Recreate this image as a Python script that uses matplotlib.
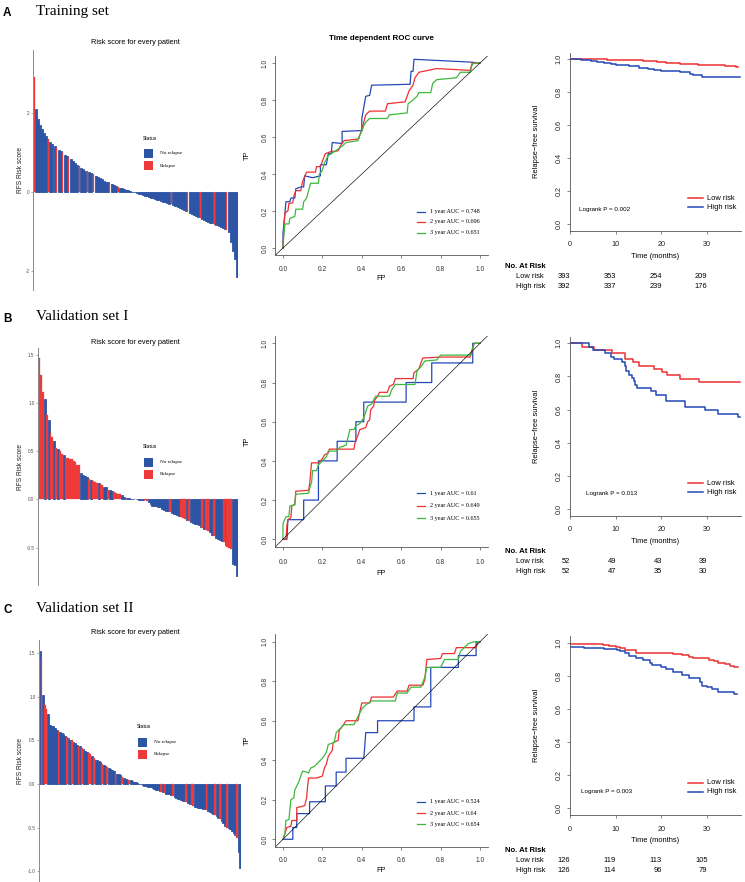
import numpy as np
import matplotlib
matplotlib.use('Agg')
import matplotlib.pyplot as plt
from matplotlib.lines import Line2D
from matplotlib.patches import Rectangle
from matplotlib.transforms import blended_transform_factory

plt.rcParams['font.family'] = ['Liberation Sans', 'DejaVu Sans']
plt.rcParams['axes.unicode_minus'] = False
SERIF = ['Liberation Serif', 'DejaVu Serif']

W, H = 745, 882
BAR_BLUE = '#2D55A5'
BAR_RED = '#EF3A3A'
C_BLUE = '#2349B8'
C_RED = '#EE3030'
C_GREEN = '#3DB83D'

# ---- waterfall: risk score per patient (sorted), relapse = index of red bars
A_SCORE = [2.90, 2.10, 1.85, 1.70, 1.58, 1.48, 1.42, 1.33, 1.27, 1.22,
           1.17, 1.12, 1.07, 1.03, 0.99, 0.94, 0.90, 0.86, 0.82, 0.78,
           0.73, 0.69, 0.65, 0.61, 0.57, 0.54, 0.52, 0.50, 0.47, 0.45,
           0.41, 0.38, 0.35, 0.32, 0.29, 0.26, 0.24, 0.21, 0.19, 0.17,
           0.15, 0.13, 0.11, 0.09, 0.07, 0.05, 0.04, 0.03, 0.01, 0.00,
           -0.02, -0.04, -0.06, -0.08, -0.10, -0.11, -0.13, -0.14, -0.16, -0.17,
           -0.19, -0.20, -0.22, -0.24, -0.25, -0.27, -0.29, -0.31, -0.33, -0.35,
           -0.38, -0.40, -0.42, -0.45, -0.47, -0.50, -0.53, -0.56, -0.58, -0.61,
           -0.63, -0.66, -0.68, -0.71, -0.73, -0.75, -0.77, -0.79, -0.82, -0.84,
           -0.86, -0.88, -0.91, -0.94, -0.97, -1.02, -1.25, -1.48, -1.70, -2.15]
A_RELAPSE = [0, 7, 11, 14, 17, 22, 26, 29, 37, 41, 67, 75, 81, 88, 94]
A_YTICKS = [-2, 0, 2]
A_YLABELS = ['-2', '0', '2']

B_SCORE = [1.47, 1.30, 1.12, 1.05, 0.88, 0.83, 0.69, 0.65, 0.61, 0.54,
           0.53, 0.50, 0.47, 0.46, 0.43, 0.43, 0.42, 0.42, 0.40, 0.39,
           0.36, 0.36, 0.28, 0.26, 0.24, 0.23, 0.21, 0.20, 0.19, 0.18,
           0.17, 0.17, 0.16, 0.15, 0.13, 0.13, 0.10, 0.10, 0.09, 0.08,
           0.07, 0.06, 0.06, 0.05, 0.03, 0.02, 0.02, 0.02, 0.01, 0.01,
           0.01, 0.003, -0.001, -0.003, -0.005, -0.01, -0.02, -0.03, -0.05, -0.07,
           -0.07, -0.07, -0.08, -0.08, -0.10, -0.11, -0.12, -0.12, -0.13, -0.14,
           -0.15, -0.15, -0.16, -0.17, -0.18, -0.19, -0.20, -0.21, -0.22, -0.23,
           -0.24, -0.25, -0.26, -0.27, -0.29, -0.30, -0.31, -0.32, -0.33, -0.34,
           -0.37, -0.38, -0.40, -0.41, -0.42, -0.43, -0.44, -0.47, -0.49, -0.50,
           -0.52, -0.67, -0.68, -0.80]
B_RELAPSE = [0, 1, 2, 4, 6, 7, 9, 11, 12, 14, 15, 16, 17, 18, 19, 20, 21, 26, 28,
             29, 30, 32, 33, 36, 39, 40, 41, 42, 45, 50, 55, 56, 68, 74, 75, 76,
             78, 85, 87, 88, 91, 96, 98, 99, 100]
B_YTICKS = [-0.5, 0.0, 0.5, 1.0, 1.5]
B_YLABELS = ['-0.5', '0.0', '0.5', '1.0', '1.5']

C_SCORE = [1.52, 1.45, 1.02, 0.90, 0.86, 0.80, 0.68, 0.67, 0.66, 0.64,
           0.62, 0.61, 0.60, 0.58, 0.57, 0.55, 0.54, 0.53, 0.51, 0.50,
           0.48, 0.47, 0.45, 0.44, 0.43, 0.41, 0.40, 0.38, 0.37, 0.35,
           0.34, 0.32, 0.30, 0.28, 0.27, 0.26, 0.25, 0.23, 0.22, 0.21,
           0.19, 0.18, 0.17, 0.16, 0.15, 0.13, 0.12, 0.11, 0.10, 0.08,
           0.07, 0.06, 0.05, 0.04, 0.04, 0.03, 0.02, 0.02, 0.01, 0.005,
           -0.005, -0.01, -0.02, -0.02, -0.03, -0.04, -0.04, -0.05, -0.06, -0.07,
           -0.07, -0.08, -0.09, -0.09, -0.10, -0.11, -0.12, -0.12, -0.13, -0.14,
           -0.15, -0.16, -0.17, -0.17, -0.18, -0.19, -0.20, -0.21, -0.22, -0.23,
           -0.24, -0.25, -0.26, -0.26, -0.27, -0.28, -0.28, -0.29, -0.29, -0.30,
           -0.31, -0.32, -0.33, -0.34, -0.35, -0.37, -0.39, -0.40, -0.42, -0.45,
           -0.48, -0.50, -0.51, -0.52, -0.54, -0.56, -0.58, -0.62, -0.78, -0.96]
C_RELAPSE = [1, 3, 4, 11, 16, 19, 23, 25, 29, 30, 32, 37, 40, 45, 49, 53, 72, 74,
             79, 87, 90, 91, 99, 104, 107, 111, 117]
C_YTICKS = [-1.0, -0.5, 0.0, 0.5, 1.0, 1.5]
C_YLABELS = ['-1.0', '-0.5', '0.0', '0.5', '1.0', '1.5']

# ---- time dependent ROC curves, (FP, TP) vertices
ROC_A_1Y = [(0, 0), (0, 0.08), (0.01, 0.19), (0.015, 0.25), (0.035, 0.25), (0.04, 0.27),
            (0.06, 0.27), (0.065, 0.32), (0.09, 0.33), (0.105, 0.33), (0.11, 0.39),
            (0.15, 0.38), (0.19, 0.39), (0.19, 0.45), (0.22, 0.45), (0.23, 0.51),
            (0.245, 0.51), (0.25, 0.57), (0.30, 0.565), (0.30, 0.63), (0.40, 0.635),
            (0.40, 0.70), (0.41, 0.76), (0.42, 0.82), (0.44, 0.825), (0.45, 0.88),
            (0.645, 0.885), (0.65, 0.955), (0.66, 0.955), (0.665, 1.02), (0.95, 1.005),
            (1.0, 1.0)]
ROC_A_2Y = [(0, 0), (0.005, 0.12), (0.01, 0.19), (0.025, 0.2), (0.03, 0.24), (0.05, 0.245),
            (0.055, 0.28), (0.065, 0.31), (0.09, 0.31), (0.1, 0.36), (0.115, 0.40),
            (0.12, 0.41), (0.165, 0.41), (0.17, 0.44), (0.19, 0.44), (0.2, 0.47),
            (0.215, 0.51), (0.24, 0.52), (0.28, 0.525), (0.29, 0.55), (0.31, 0.58),
            (0.385, 0.59), (0.39, 0.61), (0.40, 0.64), (0.42, 0.72), (0.44, 0.74),
            (0.52, 0.74), (0.53, 0.78), (0.62, 0.79), (0.63, 0.82), (0.64, 0.85),
            (0.66, 0.88), (0.67, 0.92), (0.69, 0.95), (0.78, 0.97), (0.95, 0.96),
            (0.96, 1.0), (1.0, 1.0)]
ROC_A_3Y = [(0, 0), (0.005, 0.08), (0.01, 0.13), (0.03, 0.13), (0.035, 0.16), (0.06, 0.17),
            (0.065, 0.21), (0.10, 0.21), (0.105, 0.25), (0.12, 0.27), (0.13, 0.31),
            (0.14, 0.35), (0.18, 0.35), (0.185, 0.40), (0.2, 0.42), (0.21, 0.46),
            (0.23, 0.50), (0.26, 0.52), (0.3, 0.55), (0.32, 0.57), (0.38, 0.58),
            (0.385, 0.60), (0.40, 0.63), (0.41, 0.66), (0.42, 0.68), (0.44, 0.70),
            (0.53, 0.70), (0.54, 0.72), (0.63, 0.73), (0.635, 0.78), (0.66, 0.80),
            (0.68, 0.82), (0.69, 0.84), (0.75, 0.84), (0.76, 0.89), (0.78, 0.91),
            (0.88, 0.92), (0.90, 0.95), (0.95, 0.95), (0.96, 0.99), (0.97, 1.0), (1.0, 1.0)]

ROC_B_1Y = [(0, 0), (0.02, 0), (0.025, 0.1), (0.105, 0.1), (0.105, 0.2), (0.18, 0.2),
            (0.18, 0.4), (0.275, 0.4), (0.275, 0.5), (0.37, 0.5), (0.37, 0.6), (0.41, 0.6),
            (0.41, 0.7), (0.625, 0.7), (0.625, 0.8), (0.755, 0.8), (0.755, 0.9),
            (0.963, 0.9), (0.963, 1.0), (1, 1)]
ROC_B_2Y = [(0, 0), (0.015, 0.0), (0.02, 0.07), (0.025, 0.10), (0.04, 0.11), (0.045, 0.17),
            (0.06, 0.18), (0.065, 0.245), (0.13, 0.25), (0.135, 0.28), (0.145, 0.39),
            (0.18, 0.39), (0.2, 0.41), (0.21, 0.43), (0.23, 0.44), (0.235, 0.46),
            (0.36, 0.46), (0.365, 0.49), (0.38, 0.53), (0.39, 0.56), (0.42, 0.57),
            (0.43, 0.60), (0.44, 0.61), (0.445, 0.66), (0.46, 0.68), (0.465, 0.71),
            (0.48, 0.73), (0.49, 0.75), (0.53, 0.75), (0.54, 0.78), (0.56, 0.79),
            (0.57, 0.82), (0.66, 0.82), (0.665, 0.85), (0.69, 0.87), (0.7, 0.90),
            (0.71, 0.925), (0.8, 0.93), (0.95, 0.93), (0.96, 0.96), (0.97, 1.0), (1, 1)]
ROC_B_3Y = [(0, 0), (0.0, 0.08), (0.015, 0.115), (0.03, 0.115), (0.035, 0.17), (0.06, 0.175),
            (0.065, 0.23), (0.13, 0.235), (0.135, 0.26), (0.145, 0.29), (0.15, 0.35),
            (0.17, 0.35), (0.18, 0.38), (0.2, 0.40), (0.22, 0.42), (0.23, 0.45),
            (0.27, 0.45), (0.29, 0.47), (0.32, 0.48), (0.33, 0.52), (0.34, 0.56),
            (0.36, 0.56), (0.37, 0.58), (0.39, 0.59), (0.41, 0.62), (0.42, 0.65),
            (0.43, 0.68), (0.45, 0.69), (0.47, 0.73), (0.54, 0.73), (0.55, 0.76),
            (0.57, 0.79), (0.67, 0.79), (0.68, 0.86), (0.7, 0.88), (0.72, 0.91),
            (0.78, 0.915), (0.8, 0.94), (0.95, 0.94), (0.96, 0.97), (0.97, 1.0), (1, 1)]

ROC_C_1Y = [(0, 0), (0.05, 0), (0.05, 0.06), (0.07, 0.06), (0.07, 0.13), (0.135, 0.13),
            (0.135, 0.19), (0.215, 0.19), (0.215, 0.27), (0.27, 0.27), (0.27, 0.34),
            (0.32, 0.34), (0.32, 0.41), (0.41, 0.41), (0.415, 0.47), (0.42, 0.54),
            (0.48, 0.54), (0.48, 0.60), (0.665, 0.60), (0.665, 0.67), (0.75, 0.67),
            (0.75, 0.87), (0.89, 0.87), (0.89, 0.93), (0.98, 0.93), (0.98, 1.0), (1, 1)]
ROC_C_2Y = [(0, 0), (0.01, 0.03), (0.02, 0.06), (0.04, 0.065), (0.045, 0.095), (0.07, 0.095),
            (0.07, 0.16), (0.11, 0.17), (0.12, 0.21), (0.125, 0.27), (0.13, 0.31),
            (0.17, 0.31), (0.2, 0.32), (0.21, 0.36), (0.22, 0.38), (0.23, 0.42),
            (0.25, 0.45), (0.255, 0.49), (0.28, 0.50), (0.285, 0.55), (0.30, 0.57),
            (0.32, 0.60), (0.38, 0.60), (0.40, 0.69), (0.44, 0.69), (0.45, 0.72),
            (0.56, 0.72), (0.58, 0.75), (0.63, 0.75), (0.64, 0.78), (0.71, 0.78),
            (0.72, 0.81), (0.73, 0.91), (0.80, 0.915), (0.81, 0.94), (0.87, 0.94),
            (0.88, 0.97), (0.98, 0.97), (0.99, 1.0), (1, 1)]
ROC_C_3Y = [(0, 0), (0.01, 0.03), (0.015, 0.095), (0.03, 0.10), (0.04, 0.20), (0.055, 0.21),
            (0.06, 0.25), (0.08, 0.29), (0.09, 0.32), (0.10, 0.345), (0.12, 0.34),
            (0.13, 0.335), (0.14, 0.36), (0.16, 0.37), (0.18, 0.39), (0.20, 0.41),
            (0.22, 0.44), (0.23, 0.48), (0.26, 0.49), (0.27, 0.54), (0.29, 0.56),
            (0.31, 0.58), (0.36, 0.58), (0.38, 0.62), (0.40, 0.66), (0.42, 0.68),
            (0.45, 0.70), (0.57, 0.70), (0.58, 0.74), (0.63, 0.74), (0.65, 0.77),
            (0.70, 0.77), (0.72, 0.82), (0.73, 0.87), (0.8, 0.87), (0.82, 0.91),
            (0.89, 0.91), (0.9, 0.95), (0.94, 0.99), (0.97, 1.0), (1, 1)]

AUC_A = ['0.748', '0.696', '0.651']
AUC_B = ['0.61', '0.649', '0.655']
AUC_C = ['0.524', '0.64', '0.654']

# ---- Kaplan-Meier relapse-free survival (months, survival)
KM_A_LOW_T = [0, 8, 12, 16, 19, 21, 24, 28, 34, 36.3, 36.8]
KM_A_LOW_S = [1.0, 0.997, 0.993, 0.99, 0.985, 0.978, 0.972, 0.966, 0.962, 0.955, 0.955]
KM_A_HIGH_T = [0, 2.5, 4.5, 6, 7.5, 9, 10, 13, 15, 17, 18.5, 20, 24, 26.3, 27, 29, 37.3]
KM_A_HIGH_S = [1.0, 0.997, 0.99, 0.985, 0.978, 0.97, 0.965, 0.958, 0.95, 0.943, 0.935,
               0.927, 0.92, 0.91, 0.902, 0.895, 0.895]

KM_B_LOW_T = [0, 2.6, 5.3, 9.1, 12.1, 13.9, 15, 18.3, 20.1, 21.2, 24.1, 28.2, 37.2]
KM_B_LOW_S = [1.0, 0.98, 0.96, 0.94, 0.905, 0.885, 0.865, 0.845, 0.825, 0.808, 0.787,
              0.767, 0.767]
KM_B_HIGH_T = [0, 4.2, 5.0, 7.7, 9.0, 9.6, 11.3, 12.0, 12.3, 13.0, 13.5, 14.0, 14.3, 14.6,
               17.8, 18.8, 21.0, 25.2, 29.5, 32.4, 36.8, 37.2]
KM_B_HIGH_S = [1.0, 0.98, 0.96, 0.94, 0.92, 0.905, 0.885, 0.865, 0.83, 0.81, 0.79, 0.77,
               0.75, 0.73, 0.71, 0.69, 0.65, 0.615, 0.595, 0.575, 0.555, 0.555]

KM_C_LOW_T = [0, 7.3, 8.5, 10, 11, 12, 14.5, 22.5, 24.5, 26, 27, 30.5, 31.5, 32.5, 34, 35,
              36, 36.8]
KM_C_LOW_S = [0.993, 0.986, 0.98, 0.973, 0.965, 0.955, 0.94, 0.932, 0.925, 0.915, 0.905,
              0.898, 0.89, 0.88, 0.87, 0.86, 0.85, 0.85]
KM_C_HIGH_T = [0, 3, 7.5, 10.3, 11, 12, 13, 14.5, 16, 17.5, 18, 20, 21, 22.5, 24.5, 26,
               28.5, 29, 30, 31, 32.5, 36, 36.6]
KM_C_HIGH_S = [0.975, 0.97, 0.963, 0.957, 0.95, 0.935, 0.92, 0.905, 0.895, 0.88, 0.865,
               0.85, 0.84, 0.825, 0.805, 0.785, 0.765, 0.74, 0.73, 0.72, 0.70, 0.69, 0.69]

RISK_TIMES = [0, 10, 20, 30]
RISK_A = ([393, 353, 254, 209], [392, 337, 239, 176])
RISK_B = ([52, 49, 43, 39], [52, 47, 35, 30])
RISK_C = ([126, 119, 113, 105], [126, 114, 96, 79])

fig = plt.figure(figsize=(W / 100, H / 100), dpi=100)


def rect(l, t, r, b):
    return [l / W, 1 - b / H, (r - l) / W, (b - t) / H]


def ftext(x, y, s, **kw):
    return fig.text(x / W, 1 - y / H, s, **kw)


def fline(x0, x1, y, color, lw):
    fig.add_artist(Line2D([x0 / W, x1 / W], [1 - y / H, 1 - y / H], color=color, lw=lw,
                          transform=fig.transFigure))


def waterfall(box, scores, relapse, ylim, yticks, ylabels, red_w, title_y, leg):
    ax = fig.add_axes(rect(*box))
    s = np.array(scores)
    n = len(s)
    idx = np.arange(n)
    red = np.zeros(n, bool)
    red[relapse] = True
    ax.bar(idx[~red], s[~red], width=1.0, color=BAR_BLUE, ec=BAR_BLUE, lw=0.6)
    ax.bar(idx[red], s[red], width=red_w, color=BAR_RED, ec=BAR_RED, lw=0.2)
    ax.set_xlim(-0.5, n - 0.5)
    ax.set_ylim(*ylim)
    ax.set_yticks(yticks, ylabels)
    ax.set_xticks([])
    for sp in ['top', 'right', 'bottom']:
        ax.spines[sp].set_visible(False)
    ax.spines['left'].set_color('#8a8a8a')
    ax.spines['left'].set_linewidth(0.7)
    ax.tick_params(axis='y', length=1.5, width=0.4, color='#666666', labelsize=3.3,
                   labelcolor='#4d4d4d', pad=1)
    ax.patch.set_alpha(0)
    ftext(20, (box[1] + box[3]) / 2, 'RFS Risk score', rotation=90, ha='center', va='center',
          fontsize=4.8, color='#222222')
    ftext(135, title_y, 'Risk score for every patient', ha='center', va='center', fontsize=5.3)
    lx, ly, tx = leg
    ftext(lx, ly, 'Status', ha='left', va='center', fontsize=3.6)
    for k, (lab, col) in enumerate([('No relapse', BAR_BLUE), ('Relapse', BAR_RED)]):
        yy = ly + 15 + k * 12.5
        fig.add_artist(Rectangle(((lx + 1) / W, 1 - (yy + 4.5) / H), 9 / W, 9 / H,
                                 color=col, transform=fig.transFigure, lw=0))
        ftext(tx, yy, lab, ha='left', va='center', fontsize=3.7, family=SERIF)


def roc(box, curves, aucs, leg_ys, tick_pad, fp_y, title=None):
    ax = fig.add_axes(rect(*box))
    for pts, col in zip(curves, [C_BLUE, C_RED, C_GREEN]):
        fp, tp = zip(*pts)
        ax.plot(fp, tp, color=col, lw=0.9)
    ax.axline((0, 0), slope=1, color='black', lw=0.45)
    ax.set_xlim(-0.04, 1.04)
    ax.set_ylim(-0.04, 1.04)
    ticks = [0, 0.2, 0.4, 0.6, 0.8, 1.0]
    ax.set_xticks(ticks, [f'{t:.1f}' for t in ticks])
    ax.set_yticks(ticks, [f'{t:.1f}' for t in ticks])
    for sp in ['top', 'right']:
        ax.spines[sp].set_visible(False)
    for sp in ['left', 'bottom']:
        ax.spines[sp].set_color('#555555')
        ax.spines[sp].set_linewidth(0.6)
    ax.tick_params(length=2.5, width=0.5, color='#555555', labelsize=4.8, labelcolor='#333333')
    ax.tick_params(axis='x', pad=tick_pad)
    ax.tick_params(axis='y', pad=2.2, labelrotation=90)
    for lab in ax.get_yticklabels():
        lab.set_va('center')
    ax.patch.set_alpha(0)
    ftext(247, (box[1] + box[3]) / 2, 'TP', rotation=90, ha='center', va='center', fontsize=5.2)
    ftext(381, fp_y, 'FP', ha='center', va='center', fontsize=5.2)
    if title:
        ftext(381, 38, title, ha='center', va='center', fontsize=5.8, fontweight='bold')
    for k, (col, auc) in enumerate(zip([C_BLUE, C_RED, C_GREEN], aucs)):
        fline(416.7, 425, leg_ys[k], col, 0.9)
        ftext(430, leg_ys[k], f'{k + 1} year AUC = {auc}', ha='left', va='center',
              fontsize=4.4, family=SERIF)


def km(box, low, high, p_text, p_xy, risk):
    ax = fig.add_axes(rect(*box))
    ax.step(low[0], low[1], where='post', color=C_RED, lw=1.1)
    ax.step(high[0], high[1], where='post', color=C_BLUE, lw=1.1)
    ax.set_xlim(0, 37.4)
    ax.set_ylim(-0.04, 1.04)
    ax.set_xticks(RISK_TIMES)
    yt = [0, 0.2, 0.4, 0.6, 0.8, 1.0]
    ax.set_yticks(yt, [f'{t:.1f}' for t in yt])
    for sp in ['top', 'right']:
        ax.spines[sp].set_visible(False)
    for sp in ['left', 'bottom']:
        ax.spines[sp].set_color('#555555')
        ax.spines[sp].set_linewidth(0.6)
    ax.tick_params(length=2.5, width=0.5, color='#555555', labelsize=5.2, labelcolor='#222222')
    ax.tick_params(axis='x', pad=5.2)
    ax.tick_params(axis='y', pad=3.0, labelrotation=90)
    for lab in ax.get_yticklabels():
        lab.set_va('center')
    ax.patch.set_alpha(0)
    bot = box[3]
    ftext(537, (box[1] + box[3]) / 2, 'Relapse\u2212free survival', rotation=90,
          ha='center', va='center', fontsize=5.4)
    ftext(655, bot + 25.5, 'Time (months)', ha='center', va='center', fontsize=5.4)
    fline(688, 703, bot - 32.5, C_RED, 1.1)
    fline(688, 703, bot - 23.5, C_BLUE, 1.1)
    ftext(707, bot - 32.5, 'Low risk', ha='left', va='center', fontsize=5.4)
    ftext(707, bot - 23.5, 'High risk', ha='left', va='center', fontsize=5.4)
    ftext(p_xy[0], p_xy[1], p_text, ha='left', va='center', fontsize=4.5)
    ftext(505, bot + 35.5, 'No. At Risk', ha='left', va='center', fontsize=5.6,
          fontweight='bold')
    ftext(516, bot + 45.5, 'Low risk', ha='left', va='center', fontsize=5.4)
    ftext(516, bot + 55.5, 'High risk', ha='left', va='center', fontsize=5.4)
    tr = blended_transform_factory(ax.transData, fig.transFigure)
    for row, off in zip(risk, [45.5, 55.5]):
        for t, v in zip(RISK_TIMES, row):
            ax.text(t + 0.1, 1 - (bot + off) / H, str(v), transform=tr, ha='right',
                    va='center', fontsize=5.4, clip_on=False)


# panel headers
for lab, title, base in [('A', 'Training set', 14.5), ('B', 'Validation set I', 320.5),
                         ('C', 'Validation set II', 612)]:
    ftext(3, base + 1, lab, ha='left', va='baseline', fontsize=8.5, fontweight='bold')
    ftext(36, base, title, ha='left', va='baseline', fontsize=11, family=SERIF)

# A: training set
waterfall((33, 50, 238, 290), A_SCORE, A_RELAPSE, (-2.47, 3.58), A_YTICKS, A_YLABELS,
          0.5, 43, (143, 138, 160))
roc((275.1, 55.6, 487.9, 255.4), [ROC_A_1Y, ROC_A_2Y, ROC_A_3Y], AUC_A,
    [211.7, 221.7, 232.7], 5.0, 278, title='Time dependent ROC curve')
km((570, 52.7, 740.8, 230.6), (KM_A_LOW_T, KM_A_LOW_S), (KM_A_HIGH_T, KM_A_HIGH_S),
   'Logrank P = 0.002', (579, 210), RISK_A)

# B: validation set I
waterfall((38, 348, 238, 585), B_SCORE, B_RELAPSE, (-0.89, 1.577), B_YTICKS, B_YLABELS,
          1.0, 342, (143, 447, 160))
roc((275.1, 335.5, 487.9, 547.1), [ROC_B_1Y, ROC_B_2Y, ROC_B_3Y], AUC_B,
    [493.3, 506, 518.3], 5.8, 573.3)
km((570, 336.7, 740.8, 515.6), (KM_B_LOW_T, KM_B_LOW_S), (KM_B_HIGH_T, KM_B_HIGH_S),
   'Logrank P = 0.013', (585.7, 493.3), RISK_B)

# C: validation set II
waterfall((39, 640, 241, 882), C_SCORE, C_RELAPSE, (-1.124, 1.651), C_YTICKS, C_YLABELS,
          1.0, 633, (137, 727, 154))
roc((275.1, 633.8, 487.9, 847.2), [ROC_C_1Y, ROC_C_2Y, ROC_C_3Y], AUC_C,
    [801.7, 813.3, 824.3], 4.6, 870.7)
km((570, 636.0, 740.8, 815.0), (KM_C_LOW_T, KM_C_LOW_S), (KM_C_HIGH_T, KM_C_HIGH_S),
   'Logrank P = 0.003', (580.7, 791), RISK_C)

fig.savefig('out.png', dpi=100)
